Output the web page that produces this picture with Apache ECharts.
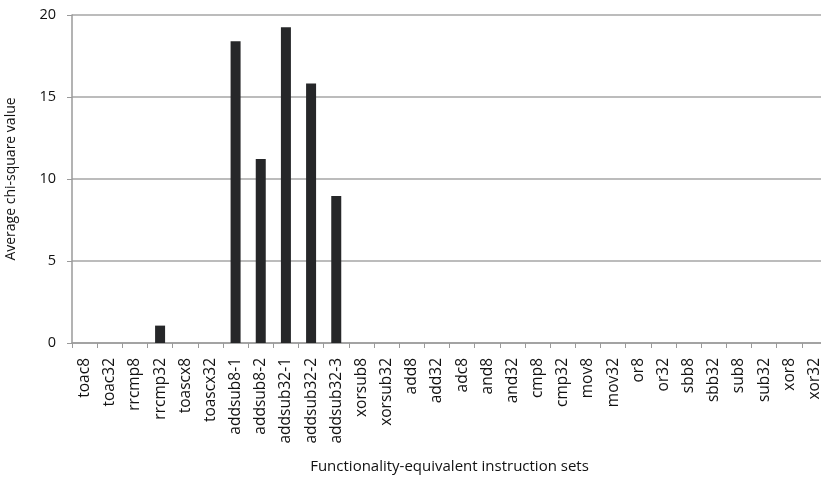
<!DOCTYPE html>
<html><head><meta charset="utf-8">
<script src="https://cdn.jsdelivr.net/npm/echarts@6/dist/echarts.min.js"></script>
<style>html,body{margin:0;padding:0;background:#fff}#c{width:821px;height:477px}</style>
</head><body><div id="c"></div>
<script>
const categories = ["toac8","toac32","rrcmp8","rrcmp32","toascx8","toascx32","addsub8-1","addsub8-2","addsub32-1","addsub32-2","addsub32-3","xorsub8","xorsub32","add8","add32","adc8","and8","and32","cmp8","cmp32","mov8","mov32","or8","or32","sbb8","sbb32","sub8","sub32","xor8","xor32"];
const values = [0,0,0,1.06,0,0,18.4,11.22,19.25,15.83,8.96,0,0,0,0,0,0,0,0,0,0,0,0,0,0,0,0,0,0,0];
const yTicks = [0,5,10,15,20];
const font = "'Open Sans', 'Noto Sans', sans-serif";
const chart = echarts.init(document.getElementById('c'));
chart.setOption({
  animation: false,
  grid: {left: 72, top: 15, bottom: 134, right: -6, containLabel: false, outerBoundsMode: 'none'},
  xAxis: {
    type: 'category', data: categories,
    name: 'Functionality-equivalent instruction sets', nameLocation: 'middle', nameGap: 116,
    nameMoveOverlap: false,
    nameTextStyle: {fontFamily: font, fontSize: 15, color: '#111'},
    axisLine: {lineStyle: {color: '#9a9a9a', width: 1.5}},
    axisTick: {show: true, alignWithLabel: false, length: 5, lineStyle: {color: '#9a9a9a'}},
    axisLabel: {rotate: 90, interval: 0, fontFamily: font, fontSize: 15.5, color: '#111', margin: 15}
  },
  yAxis: {
    type: 'value', min: yTicks[0], max: yTicks[yTicks.length-1], interval: 5,
    name: 'Average chi-square value', nameLocation: 'middle', nameGap: 54,
    nameTextStyle: {fontFamily: font, fontSize: 14, color: '#111'},
    axisLine: {show: true, lineStyle: {color: '#9a9a9a', width: 1.5}},
    axisTick: {show: true, length: 5, lineStyle: {color: '#9a9a9a'}},
    axisLabel: {fontFamily: font, fontSize: 14.5, color: '#111', margin: 16},
    splitLine: {lineStyle: {color: '#a6a6a6', width: 1.5}}
  },
  series: [{
    type: 'bar', data: values, barWidth: 10,
    itemStyle: {color: '#262729'}
  }]
});
</script></body></html>
